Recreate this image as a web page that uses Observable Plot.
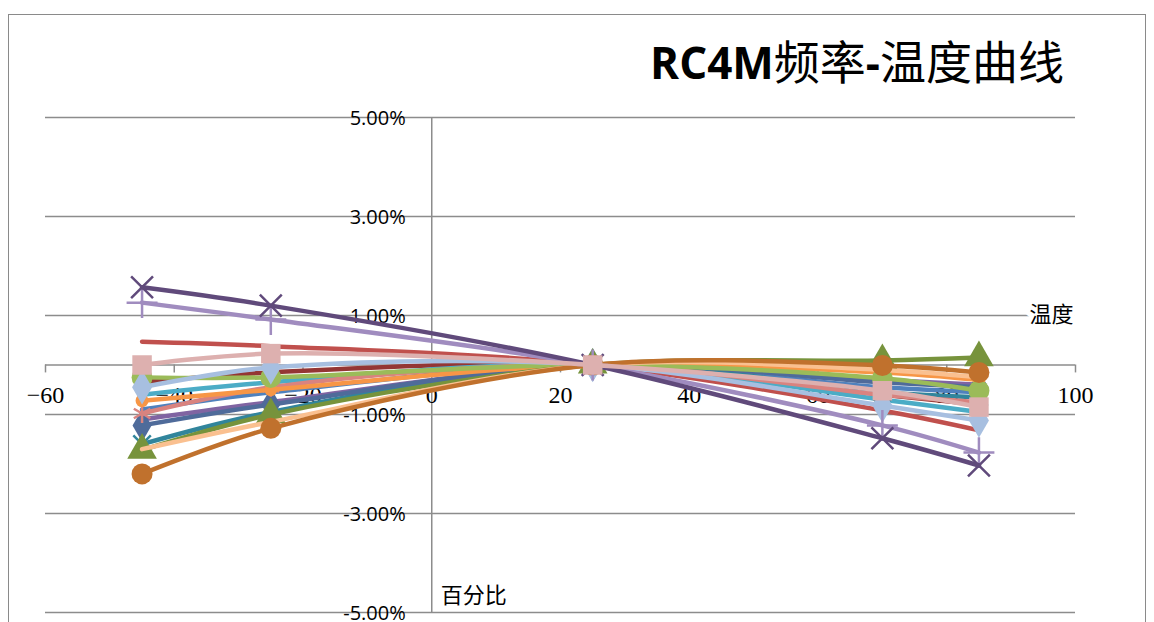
<!DOCTYPE html>
<html>
<head>
<meta charset="utf-8">
<script src="https://cdn.jsdelivr.net/npm/d3@7"></script>
<script src="https://cdn.jsdelivr.net/npm/@observablehq/plot@0.6"></script>
<style>
  html, body { margin: 0; padding: 0; background: #fff; width: 1154px; height: 622px; overflow: hidden; }
  #wrap { position: relative; width: 1154px; height: 622px; }
  #frame { position: absolute; left: 8px; top: 14px; width: 1138px; height: 640px; border: 1.5px solid #8a8a8a; box-sizing: border-box; }
  #title { position: absolute; right: 90px; top: 36px; font-size: 46px; white-space: nowrap; color: #000; line-height: 1; }
  #title .lat { font-family: "Open Sans", "Noto Sans", sans-serif; font-weight: 700; font-size: 44px; }
  #title .cjk { font-family: "Noto Sans CJK SC", sans-serif; font-weight: 400; }
  #chart { position: absolute; left: 0; top: 0; }
</style>
</head>
<body>
<div id="wrap">
  <div id="frame"></div>
  <div id="chart"></div>
  <div id="title"><span class="lat">RC4M</span><span class="cjk">频率</span><span class="lat">-</span><span class="cjk">温度曲线</span></div>
</div>
<script>
// Temperatures (°C) at which each sample was measured
const temps = [-45, -25, 25, 70, 85];

// Frequency deviation (%) per series
const s01 = [1.57, 1.20, 0, -1.48, -2.03];
const s02 = [1.26, 0.92, 0, -1.22, -1.77];
const s03 = [0.47, 0.38, 0, -0.92, -1.32];
const s04 = [-0.35, -0.15, 0, -0.60, -0.80];
const s05 = [-0.25, -0.25, 0, -0.27, -0.52];
const s06 = [-0.45, -0.05, 0, -0.82, -1.12];
const s07 = [-0.60, -0.35, 0, -0.70, -0.95];
const s08 = [-0.72, -0.50, 0, -0.15, -0.30];
const s09 = [-0.90, -0.55, 0, -0.45, -0.55];
const s10 = [-0.98, -0.45, 0, -0.60, -0.75];
const s11 = [-1.10, -0.75, 0, -0.30, -0.40];
const s12 = [-1.22, -0.80, 0, -0.35, -0.45];
const s13 = [-1.60, -0.95, 0, -0.55, -0.65];
const s14 = [-1.72, -1.00, 0, 0.09, 0.15];
const s15 = [-1.70, -1.15, 0, -0.10, -0.25];
const s16 = [-2.20, -1.28, 0, -0.01, -0.15];
const s17 = [0.00, 0.23, 0, -0.52, -0.85];

const seriesNames = ["S1","S2","S3","S4","S5","S6","S7","S8","S9","S10","S11","S12","S13","S14","S15","S16","S17"];
const seriesValues = [s01,s02,s03,s04,s05,s06,s07,s08,s09,s10,s11,s12,s13,s14,s15,s16,s17];

// Styles (kept separate from data)
const seriesColors = ["#604a7b","#a08cbf","#c0504d","#943634","#9bbb59","#a7bfe0","#4bacc6","#f79646","#4f81bd","#d9837f","#8064a2","#4f6b9a","#31859c","#77933c","#fac090","#c0712d","#ddb0af"];
const seriesSymbols = ["times","plus","none","none","circle","diamond","none","circle","none","asterisk","none","diamond","times","triangle","none","circle","square"];
const seriesMarkerSize = [10, 10, 0, 0, 10.5, 10.5, 0, 6.5, 0, 9, 0, 10, 8, 11, 0, 10.5, 11];
// Drawing order (later is on top)
const drawOrder = ["S4","S7","S9","S11","S13","S12","S10","S8","S5","S3","S6","S14","S15","S16","S2","S1","S17"];

// Axis ticks
const xTicks = [-60, -40, -20, 0, 20, 40, 60, 80, 100];
const xTickLabels = ["−60", "−40", "−20", "0", "20", "40", "60", "80", "100"];
const yTicks = [5, 3, 1, -1, -3, -5];
const yTickLabels = ["5.00%", "3.00%", "1.00%", "-1.00%", "-3.00%", "-5.00%"];

const rows = seriesNames.flatMap((name, i) =>
  temps.map((t, j) => ({series: name, temp: t, pct: seriesValues[i][j]}))
);
const strokeSyms = new Set(["times", "plus", "asterisk"]);

const xt = xTicks.map((v, i) => ({v, label: xTickLabels[i]}));
const yt = yTicks.map((v, i) => ({v, label: yTickLabels[i]}));

const seriesMarks = drawOrder.flatMap(name => {
  const i = seriesNames.indexOf(name);
  const data = rows.filter(d => d.series === name);
  const sym = seriesSymbols[i];
  const m = [Plot.line(data, {x: "temp", y: "pct", stroke: "series", curve: "catmull-rom", strokeWidth: 4.5, strokeLinecap: "round"})];
  if (sym !== "none") {
    if (strokeSyms.has(sym)) {
      m.push(Plot.dot(data, {x: "temp", y: "pct", stroke: "series", symbol: () => sym, r: seriesMarkerSize[i], strokeWidth: 2.5}));
    } else {
      m.push(Plot.dot(data, {x: "temp", y: "pct", fill: "series", symbol: () => sym, r: seriesMarkerSize[i]}));
    }
  }
  return m;
});

const chart = Plot.plot({
  width: 1154,
  height: 622,
  marginLeft: 45,
  marginRight: 79,
  marginTop: 117,
  marginBottom: 10,
  style: {background: "transparent", overflow: "visible"},
  x: {domain: [-60, 100], axis: null},
  y: {domain: [-5, 5], axis: null},
  color: {domain: seriesNames, range: seriesColors},
  symbol: {type: "identity"},
  marks: [
    Plot.ruleY(yTicks, {stroke: "#8c8c8c", strokeWidth: 1.5}),
    Plot.ruleY([0], {stroke: "#8c8c8c", strokeWidth: 1.5}),
    Plot.ruleX([0], {y1: -5, y2: 5, stroke: "#8c8c8c", strokeWidth: 1.5}),
    Plot.ruleX(xTicks, {y1: 0, y2: -0.16, stroke: "#8c8c8c", strokeWidth: 1.5}),
    Plot.text(xt, {x: "v", y: 0, text: "label", dy: 30, fontFamily: "'Liberation Serif', 'DejaVu Serif', serif", fontSize: 24, fill: "#000"}),
    Plot.text(yt, {x: 0, y: "v", text: "label", textAnchor: "end", dx: -26, dy: 1, fontFamily: "'Open Sans', sans-serif", fontSize: 20, fill: "#000"}),
    ...seriesMarks,
    Plot.text(["温度"], {x: 100, y: 1, text: d => d, textAnchor: "end", dx: -2, dy: -1, fontFamily: "'Noto Sans CJK SC', sans-serif", fontSize: 22, fill: "#000", stroke: "#fff", strokeWidth: 10}),
    Plot.text(["百分比"], {x: 0, y: -4.66, text: d => d, textAnchor: "start", dx: 9, fontFamily: "'Noto Sans CJK SC', sans-serif", fontSize: 22, fill: "#000"})
  ]
});
document.getElementById("chart").appendChild(chart);
</script>
</body>
</html>
